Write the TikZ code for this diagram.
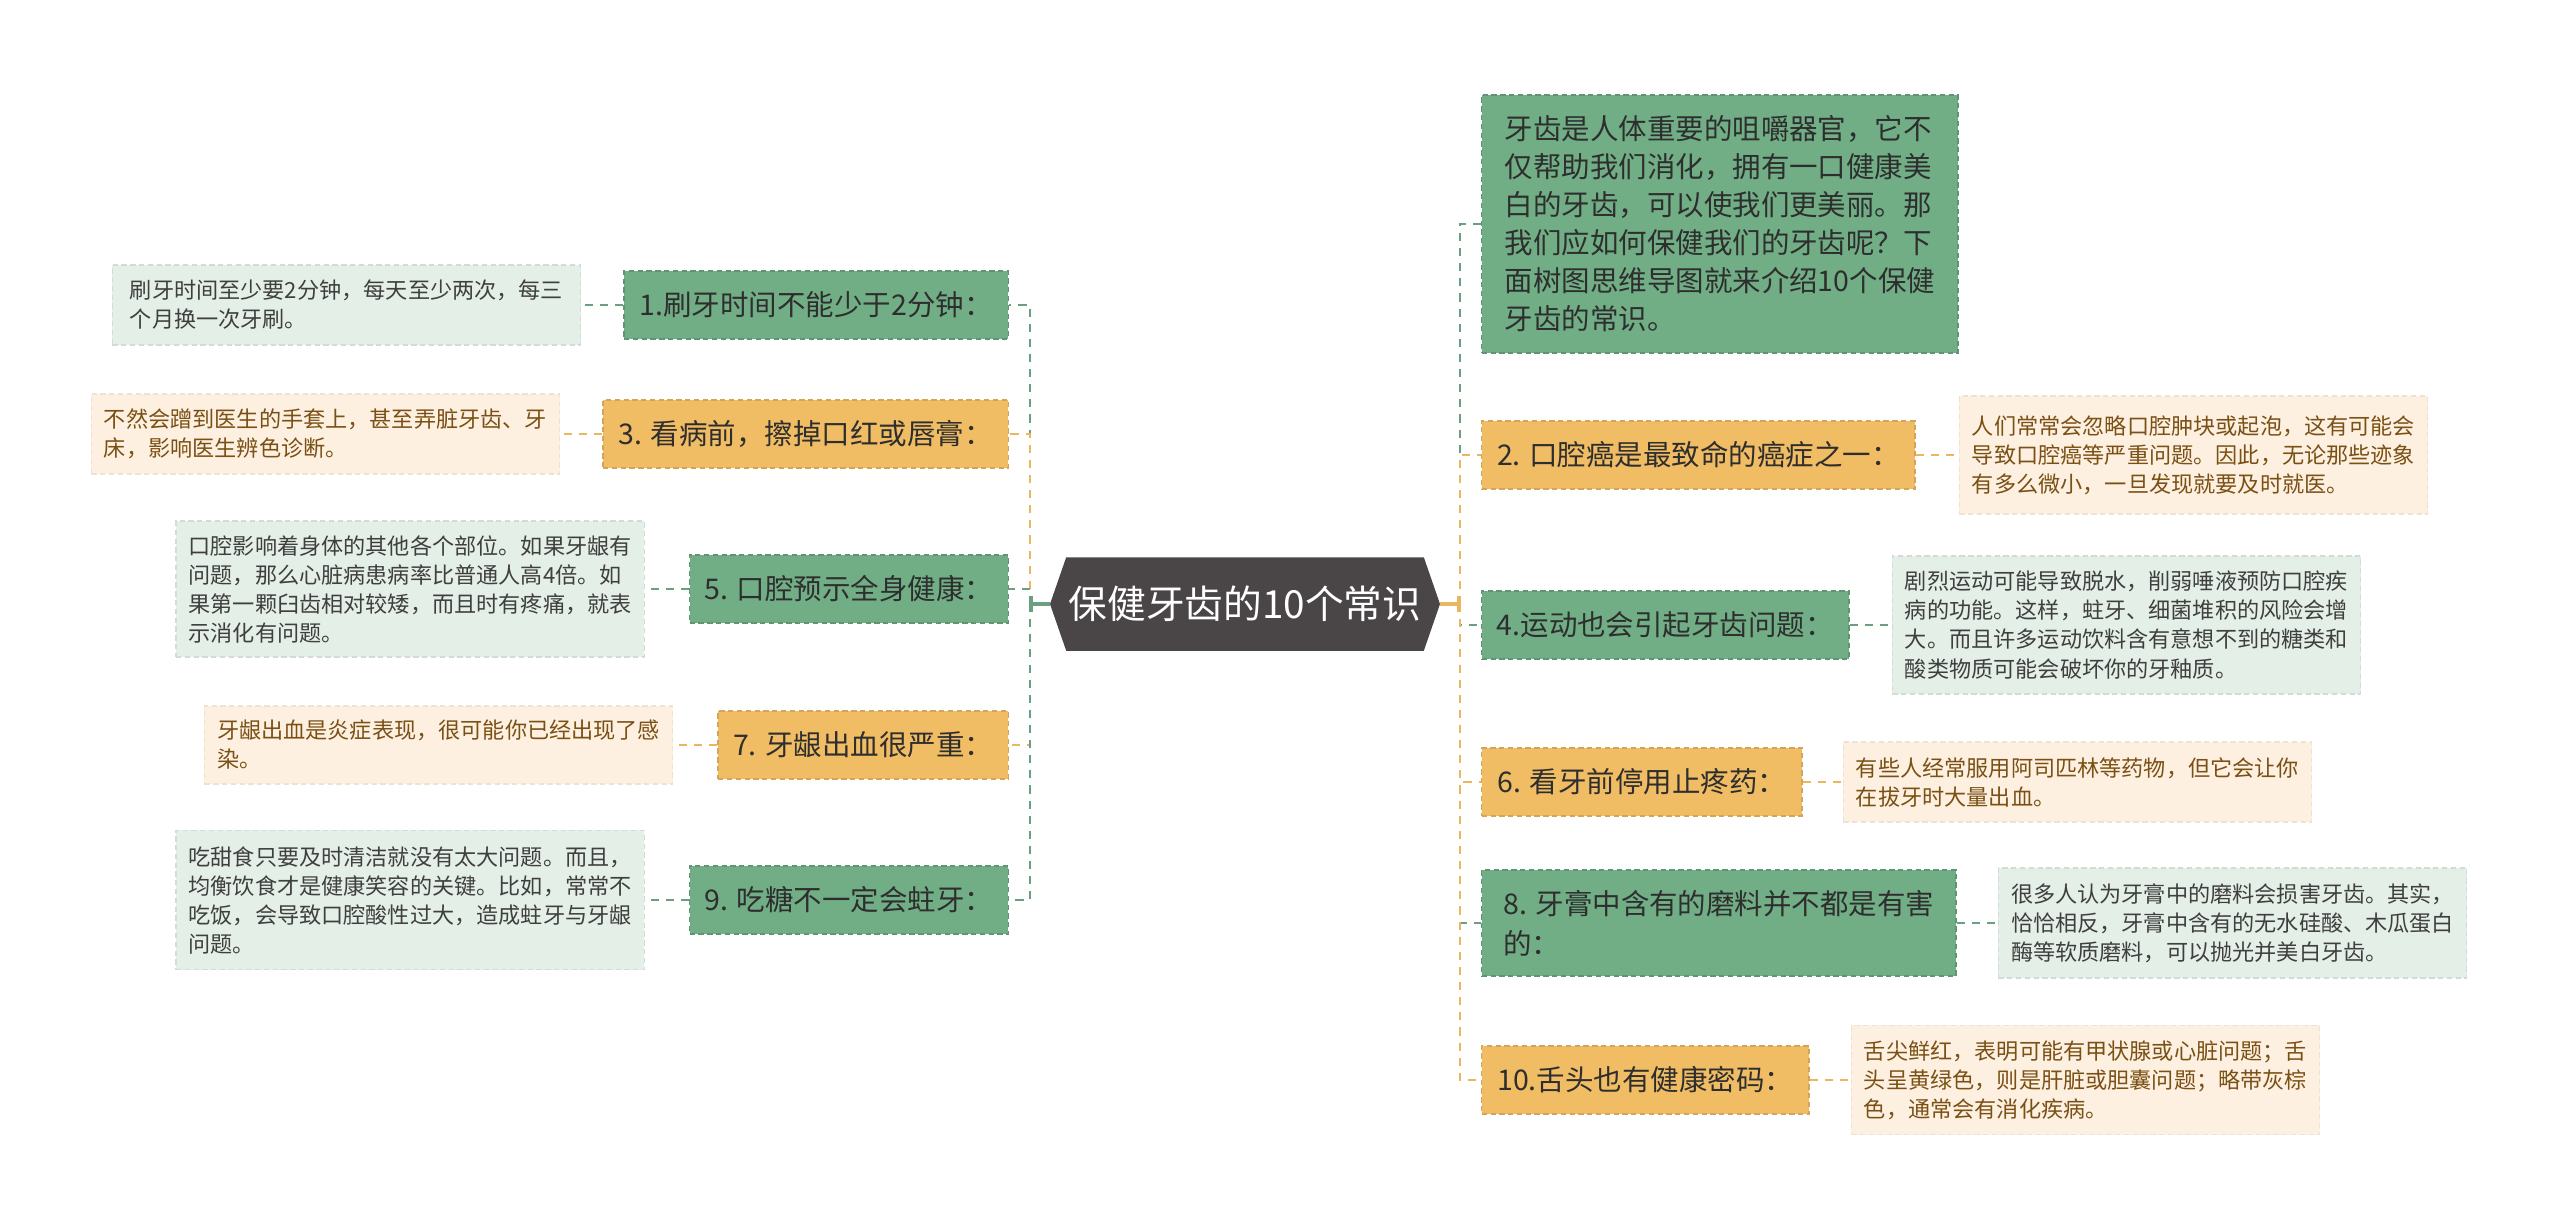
\documentclass[tikz,border=0pt]{standalone}
\usepackage{fontspec}
\setmainfont{Noto Sans CJK SC}
\usepackage{tikz}
\usetikzlibrary{arrows.meta,positioning,backgrounds}

\definecolor{rootgray}{HTML}{4A4546}
\definecolor{nodegreen}{HTML}{71AE86}
\definecolor{nodeorange}{HTML}{F0BC64}
\definecolor{leafgreen}{HTML}{E4EFE7}
\definecolor{leaforange}{HTML}{FDF0E1}
\definecolor{linegreen}{HTML}{6A9F80}
\definecolor{lineorange}{HTML}{EBB660}
\definecolor{textdark}{HTML}{2E2E2E}
\definecolor{textbrown}{HTML}{7A5014}

\begin{document}
\begin{tikzpicture}[x=0.01cm, y=-0.01cm,
  roottext/.style={rectangle, inner sep=0pt, minimum width=3.56cm, minimum height=0.92cm,
    text=white, font=\fontsize{11pt}{13pt}\selectfont},
  mainbox/.style={rectangle, inner xsep=0.15cm, inner ysep=0pt, minimum height=0.68cm,
    align=left, text=textdark, font=\fontsize{8.1pt}{11.4pt}\selectfont,
    dash pattern=on 1.5pt off 1pt, line width=0.4pt},
  gbox/.style={mainbox, fill=nodegreen, draw=nodegreen!85!black},
  obox/.style={mainbox, fill=nodeorange, draw=nodeorange!88!black},
  leafbox/.style={rectangle, inner xsep=0.1cm, inner ysep=0pt, minimum width=4.68cm,
    align=left, font=\fontsize{6.3pt}{8.25pt}\selectfont,
    dash pattern=on 1.5pt off 1pt, line width=0.4pt},
  gleaf/.style={leafbox, fill=leafgreen, draw=leafgreen!92!black, text=textdark!92},
  oleaf/.style={leafbox, fill=leaforange, draw=leaforange!94!black, text=textbrown},
  glink/.style={draw=linegreen, dash pattern=on 2.3pt off 2pt, line width=0.7pt},
  olink/.style={draw=lineorange, dash pattern=on 2.3pt off 2pt, line width=0.7pt},
  stub/.style={line width=0.9pt, -{Bar[width=0.16cm, line width=0.9pt]}},
]
  \useasboundingbox (0,0) rectangle (2560,1229);

  % centre
  \node[roottext] (root) at (1245,604) {保健牙齿的10个常识};
  \coordinate (rootL) at (1050,604);
  \coordinate (rootR) at (1440,604);
  \begin{scope}[on background layer]
    \fill[rootgray] (rootL) -- (root.north west) -- (root.north east) -- (rootR)
      -- (root.south east) -- (root.south west) -- cycle;
  \end{scope}
  \coordinate (lhub) at (1030,604);
  \coordinate (rhub) at (1460,604);

  % left branches
  \node[gbox, anchor=east, minimum width=3.84cm] (n1) at (1009,305) {1.刷牙时间不能少于2分钟：};
  \node[obox, anchor=east, minimum width=4.05cm] (n3) at (1009,434) {3. 看病前，擦掉口红或唇膏：};
  \node[gbox, anchor=east, minimum width=3.17cm] (n5) at (1009,589) {5. 口腔预示全身健康：};
  \node[obox, anchor=east, minimum width=2.89cm] (n7) at (1009,745) {7. 牙龈出血很严重：};
  \node[gbox, anchor=east, minimum width=3.17cm] (n9) at (1009,900) {9. 吃糖不一定会蛀牙：};

  \node[gleaf, left=0.42cm of n1, minimum height=0.80cm] (l1)
    {刷牙时间至少要2分钟，每天至少两次，每三\\个月换一次牙刷。};
  \node[oleaf, left=0.42cm of n3, minimum height=0.80cm] (l3)
    {不然会蹭到医生的手套上，甚至弄脏牙齿、牙\\床，影响医生辨色诊断。};
  \node[gleaf, left=0.44cm of n5, minimum height=1.36cm] (l5)
    {口腔影响着身体的其他各个部位。如果牙龈有\\问题，那么心脏病患病率比普通人高4倍。如\\果第一颗臼齿相对较矮，而且时有疼痛，就表\\示消化有问题。};
  \node[oleaf, left=0.44cm of n7, minimum height=0.78cm] (l7)
    {牙龈出血是炎症表现，很可能你已经出现了感\\染。};
  \node[gleaf, left=0.44cm of n9, minimum height=1.39cm] (l9)
    {吃甜食只要及时清洁就没有太大问题。而且，\\均衡饮食才是健康笑容的关键。比如，常常不\\吃饭，会导致口腔酸性过大，造成蛀牙与牙龈\\问题。};

  % right branches
  \node[gbox, anchor=west, minimum width=4.76cm, minimum height=2.58cm,
    font=\fontsize{8.1pt}{10.8pt}\selectfont] (intro) at (1481,224)
    {牙齿是人体重要的咀嚼器官，它不\\仅帮助我们消化，拥有一口健康美\\白的牙齿，可以使我们更美丽。那\\我们应如何保健我们的牙齿呢？下\\面树图思维导图就来介绍10个保健\\牙齿的常识。};
  \node[obox, anchor=west, minimum width=4.33cm] (n2) at (1481,455) {2. 口腔癌是最致命的癌症之一：};
  \node[gbox, anchor=west, minimum width=3.67cm] (n4) at (1481,625) {4.运动也会引起牙齿问题：};
  \node[obox, anchor=west, minimum width=3.20cm] (n6) at (1481,782) {6. 看牙前停用止疼药：};
  \node[gbox, anchor=west, minimum width=4.74cm, minimum height=1.06cm] (n8) at (1481,923)
    {8. 牙膏中含有的磨料并不都是有害\\的：};
  \node[obox, anchor=west, minimum width=3.27cm] (n10) at (1481,1080) {10.舌头也有健康密码：};

  \node[oleaf, right=0.43cm of n2, minimum height=1.18cm] (l2)
    {人们常常会忽略口腔肿块或起泡，这有可能会\\导致口腔癌等严重问题。因此，无论那些迹象\\有多么微小，一旦发现就要及时就医。};
  \node[gleaf, right=0.42cm of n4, minimum height=1.38cm] (l4)
    {剧烈运动可能导致脱水，削弱唾液预防口腔疾\\病的功能。这样，蛀牙、细菌堆积的风险会增\\大。而且许多运动饮料含有意想不到的糖类和\\酸类物质可能会破坏你的牙釉质。};
  \node[oleaf, right=0.40cm of n6, minimum height=0.80cm] (l6)
    {有些人经常服用阿司匹林等药物，但它会让你\\在拔牙时大量出血。};
  \node[gleaf, right=0.41cm of n8, minimum height=1.10cm] (l8)
    {很多人认为牙膏中的磨料会损害牙齿。其实，\\恰恰相反，牙膏中含有的无水硅酸、木瓜蛋白\\酶等软质磨料，可以抛光并美白牙齿。};
  \node[oleaf, right=0.41cm of n10, minimum height=1.09cm] (l10)
    {舌尖鲜红，表明可能有甲状腺或心脏问题；舌\\头呈黄绿色，则是肝脏或胆囊问题；略带灰棕\\色，通常会有消化疾病。};

  % trunk links
  \draw[glink] (lhub) |- (n1);
  \draw[olink] (lhub) |- (n3);
  \draw[glink] (lhub) |- (n5);
  \draw[olink] (lhub) |- (n7);
  \draw[glink] (lhub) |- (n9);
  \draw[glink] (rhub) |- (intro);
  \draw[olink] (rhub) |- (n2);
  \draw[glink] (rhub) |- (n4);
  \draw[olink] (rhub) |- (n6);
  \draw[glink] (rhub) |- (n8);
  \draw[olink] (rhub) |- (n10);
  \draw[stub, linegreen] (rootL) -- (lhub);
  \draw[stub, lineorange] (rootR) -- (rhub);

  % leaf links
  \draw[glink] (n1) -- (l1);
  \draw[olink] (n3) -- (l3);
  \draw[glink] (n5) -- (l5);
  \draw[olink] (n7) -- (l7);
  \draw[glink] (n9) -- (l9);
  \draw[olink] (n2) -- (l2);
  \draw[glink] (n4) -- (l4);
  \draw[olink] (n6) -- (l6);
  \draw[glink] (n8) -- (l8);
  \draw[olink] (n10) -- (l10);
\end{tikzpicture}
\end{document}
